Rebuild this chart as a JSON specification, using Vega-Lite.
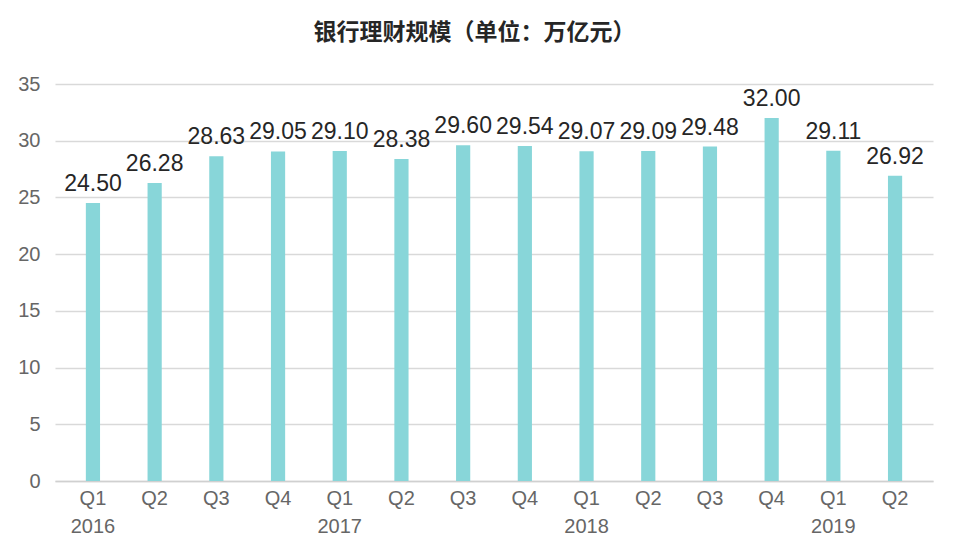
{
  "$schema": "https://vega.github.io/schema/vega-lite/v6.json",
  "description": "银行理财规模（单位：万亿元）",
  "autosize": {"type": "none"},
  "width": 889,
  "height": 397,
  "padding": {"left": 54, "top": 84, "right": 17, "bottom": 58},
  "background": "#ffffff",
  "title": {
    "text": "银行理财规模（单位：万亿元）",
    "font": "Noto Sans CJK SC",
    "fontSize": 23,
    "fontWeight": "bold",
    "color": "#262626",
    "anchor": "middle",
    "frame": "group",
    "dx": -24,
    "offset": 6,
    "baseline": "bottom"
  },
  "data": {
    "values": [
      {"period": "2016Q1", "value": 24.50},
      {"period": "2016Q2", "value": 26.28},
      {"period": "2016Q3", "value": 28.63},
      {"period": "2016Q4", "value": 29.05},
      {"period": "2017Q1", "value": 29.10},
      {"period": "2017Q2", "value": 28.38},
      {"period": "2017Q3", "value": 29.60},
      {"period": "2017Q4", "value": 29.54},
      {"period": "2018Q1", "value": 29.07},
      {"period": "2018Q2", "value": 29.09},
      {"period": "2018Q3", "value": 29.48},
      {"period": "2018Q4", "value": 32.00},
      {"period": "2019Q1", "value": 29.11},
      {"period": "2019Q2", "value": 26.92}
    ]
  },
  "encoding": {
    "x": {
      "field": "period",
      "type": "ordinal",
      "sort": null,
      "scale": {"range": [1, 879], "paddingInner": 0.77, "paddingOuter": 0.5},
      "axis": {
        "title": null,
        "labelAngle": 0,
        "labelFont": "Liberation Sans",
        "labelFontSize": 20,
        "labelColor": "#666666",
        "labelLineHeight": 28,
        "labelPadding": 7,
        "labelBaseline": "top",
        "ticks": false,
        "domainColor": "#d0d0d0",
        "domainWidth": 1.5,
        "labelExpr": "substring(datum.value,4,6) == 'Q1' ? [substring(datum.value,4,6), substring(datum.value,0,4)] : substring(datum.value,4,6)"
      }
    },
    "y": {
      "field": "value",
      "type": "quantitative",
      "scale": {"domain": [0, 35], "nice": false},
      "axis": {
        "title": null,
        "values": [0, 5, 10, 15, 20, 25, 30, 35],
        "domain": false,
        "ticks": false,
        "labelFont": "Liberation Sans",
        "labelFontSize": 20,
        "labelColor": "#666666",
        "labelPadding": 14,
        "gridColor": "#d9d9d9",
        "gridWidth": 1.5
      }
    }
  },
  "layer": [
    {"mark": {"type": "bar", "color": "#88d6d9"}},
    {
      "mark": {
        "type": "text",
        "font": "Liberation Sans",
        "fontSize": 23,
        "color": "#262626",
        "baseline": "bottom",
        "dy": -7
      },
      "encoding": {
        "text": {"field": "value", "type": "quantitative", "format": ".2f"}
      }
    }
  ],
  "config": {"view": {"stroke": null}}
}
